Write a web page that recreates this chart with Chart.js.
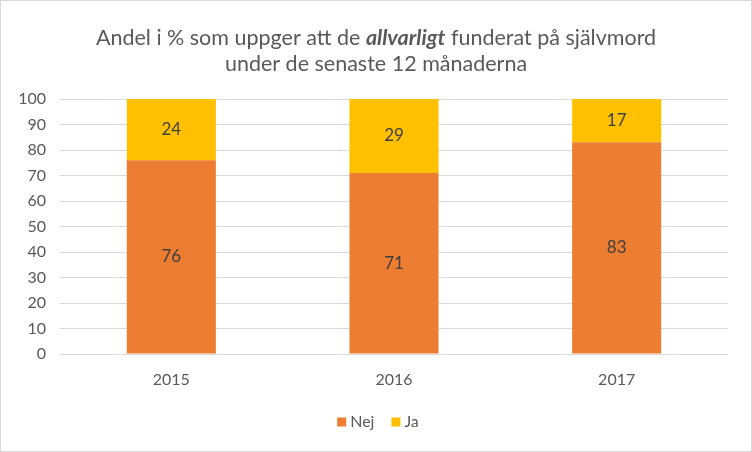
<!DOCTYPE html>
<html>
<head>
<meta charset="utf-8">
<script src="https://cdn.jsdelivr.net/npm/chart.js@4"></script>
<style>
html,body{margin:0;padding:0;background:#fff;}
#wrap{width:752px;height:452px;position:relative;}
</style>
</head>
<body>
<div id="wrap"><canvas id="c" width="752" height="452"></canvas></div>
<script>
const categories = ['2015', '2016', '2017'];
const nejValues = [76, 71, 83];
const jaValues = [24, 29, 17];
const seriesNames = ['Nej', 'Ja'];
const titleLine1 = [
  {text: 'Andel i % som uppger att de ', bold: false},
  {text: 'allvarligt', bold: true},
  {text: ' funderat på självmord', bold: false}
];
const titleLine2 = 'under de senaste 12 månaderna';

const FONT = 'Lato, "Open Sans", sans-serif';
const GRAY = '#595959';

const titlePlugin = {
  id: 'customTitle',
  afterDraw(chart) {
    const ctx = chart.ctx;
    ctx.save();
    ctx.fillStyle = GRAY;
    ctx.textBaseline = 'middle';
    const size = 21.5;
    const fonts = titleLine1.map(p => (p.bold ? 'italic bold ' : '') + size + 'px ' + FONT);
    let widths = titleLine1.map((p, i) => { ctx.font = fonts[i]; return ctx.measureText(p.text).width; });
    const total = widths.reduce((a, b) => a + b, 0);
    let x = 376 - total / 2;
    ctx.textAlign = 'left';
    titleLine1.forEach((p, i) => { ctx.font = fonts[i]; ctx.fillText(p.text, x, 38); x += widths[i]; });
    ctx.font = size + 'px ' + FONT;
    ctx.textAlign = 'center';
    ctx.fillText(titleLine2, 376, 64);
    ctx.strokeStyle = '#d9d9d9';
    ctx.lineWidth = 1;
    ctx.strokeRect(0.5, 0.5, chart.width - 1, chart.height - 1);
    ctx.restore();
  }
};

const legendPlugin = {
  id: 'customLegend',
  afterDraw(chart) {
    const ctx = chart.ctx;
    ctx.save();
    ctx.font = '16px ' + FONT;
    ctx.textBaseline = 'middle';
    ctx.textAlign = 'left';
    const box = 9, gapText = 4, gapItem = 17, cy = 422;
    const items = chart.data.datasets.map(ds => ({label: ds.label, color: ds.backgroundColor, w: ctx.measureText(ds.label).width}));
    let total = 0;
    items.forEach((it, i) => { total += box + gapText + it.w + (i < items.length - 1 ? gapItem : 0); });
    let x = 378 - total / 2;
    items.forEach(it => {
      ctx.fillStyle = it.color;
      ctx.fillRect(x, cy - box / 2, box, box);
      x += box + gapText;
      ctx.fillStyle = GRAY;
      ctx.fillText(it.label, x, cy);
      x += it.w + gapItem;
    });
    ctx.restore();
  }
};

const labelPlugin = {
  id: 'barLabels',
  afterDatasetsDraw(chart) {
    const ctx = chart.ctx;
    ctx.save();
    ctx.font = '17px ' + FONT;
    ctx.fillStyle = '#404040';
    ctx.textAlign = 'center';
    ctx.textBaseline = 'middle';
    chart.data.datasets.forEach((ds, di) => {
      const meta = chart.getDatasetMeta(di);
      meta.data.forEach((bar, i) => {
        const y = (bar.y + bar.base) / 2;
        ctx.fillText(String(ds.data[i]), bar.x, y);
      });
    });
    ctx.restore();
  }
};

new Chart(document.getElementById('c'), {
  type: 'bar',
  data: {
    labels: categories,
    datasets: [
      {label: seriesNames[0], data: nejValues, backgroundColor: '#ED7D31', categoryPercentage: 1, barPercentage: 0.4},
      {label: seriesNames[1], data: jaValues, backgroundColor: '#FFC000', categoryPercentage: 1, barPercentage: 0.4}
    ]
  },
  options: {
    responsive: false,
    animation: false,
    layout: {padding: {top: 99, right: 24, left: 0, bottom: 52}},
    scales: {
      x: {
        stacked: true,
        grid: {display: false},
        border: {display: false},
        ticks: {color: GRAY, font: {family: FONT, size: 16}, padding: 8},
        afterFit(scale) { scale.height = 46; }
      },
      y: {
        stacked: true,
        min: 0, max: 100,
        ticks: {stepSize: 10, color: GRAY, font: {family: FONT, size: 16}, padding: 14},
        grid: {color: '#d9d9d9', lineWidth: 1, drawTicks: false},
        border: {display: false},
        afterFit(scale) { scale.width = 60; }
      }
    },
    plugins: {
      legend: {display: false},
      tooltip: {enabled: false}
    }
  },
  plugins: [titlePlugin, labelPlugin, legendPlugin]
});
</script>
</body>
</html>
